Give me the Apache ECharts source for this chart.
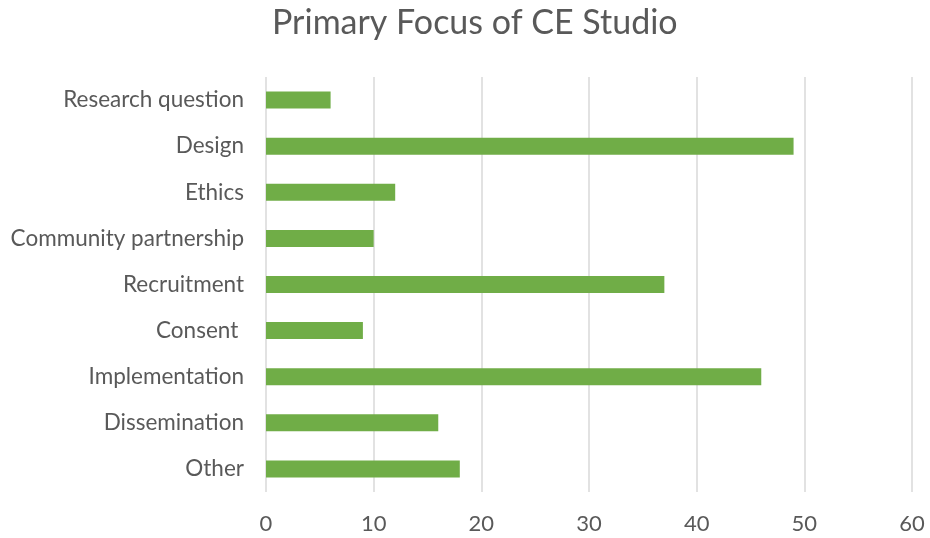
<!DOCTYPE html>
<html>
<head>
<meta charset="utf-8">
<script src="https://cdn.jsdelivr.net/npm/echarts@6/dist/echarts.min.js"></script>
<style>
  html, body { margin: 0; padding: 0; background: #fff; }
  #chart { width: 930px; height: 538px; }
</style>
</head>
<body>
<div id="chart"></div>
<script>
const categories = [
  'Research question', 'Design', 'Ethics', 'Community partnership',
  'Recruitment', 'Consent ', 'Implementation', 'Dissemination', 'Other'
]
const counts = [6, 49, 12, 10, 37, 9, 46, 16, 18]

const chart = echarts.init(document.getElementById('chart'))

const font = 'Lato, "Open Sans", sans-serif'

chart.setOption({
  animation: false,
  title: {
    text: 'Primary Focus of CE Studio',
    left: 267,
    top: 1,
    textStyle: {
      fontFamily: font,
      fontSize: 34,
      fontWeight: 'normal',
      color: '#595959'
    }
  },
  grid: {
    top: 77,
    bottom: 46,
    left: 266,
    right: 18
  },
  xAxis: {
    type: 'value',
    min: 0,
    max: 60,
    interval: 10,
    axisLine: { show: false },
    axisTick: { show: false },
    axisLabel: {
      fontFamily: font,
      fontSize: 22,
      color: '#595959',
      margin: 21
    },
    splitLine: {
      lineStyle: { color: '#d9d9d9', width: 1.5 }
    }
  },
  yAxis: {
    type: 'category',
    data: categories,
    inverse: true,
    axisLine: { show: false },
    axisTick: { show: false },
    axisLabel: {
      fontFamily: font,
      fontSize: 22.5,
      color: '#595959',
      margin: 22
    }
  },
  series: [
    {
      type: 'bar',
      data: counts,
      barWidth: 17,
      itemStyle: { color: '#70ad47' }
    }
  ]
})
</script>
</body>
</html>
